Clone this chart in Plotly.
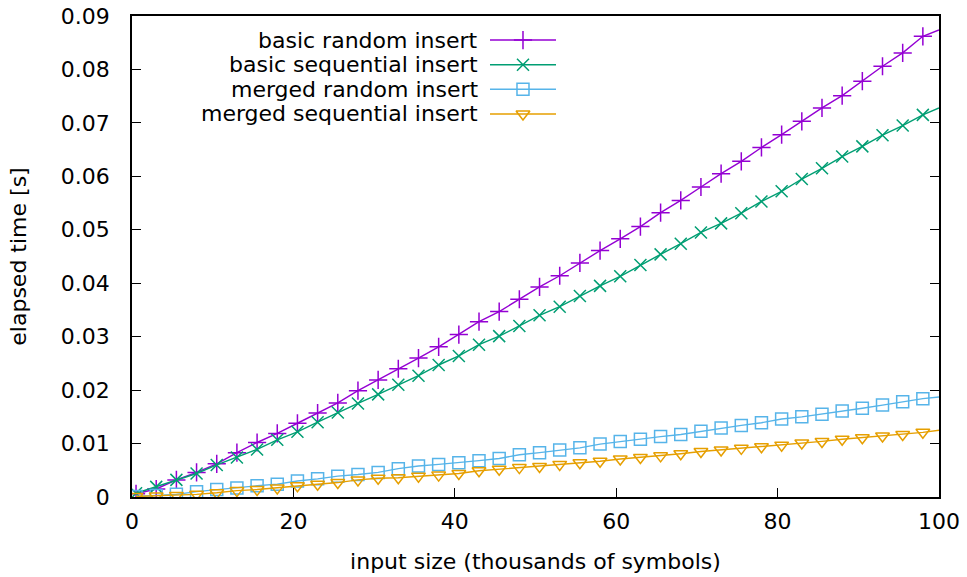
import plotly.graph_objects as go

# x positions of the measured points (thousands of symbols)
x_vals = [0.5 + 2.5 * k for k in range(40)]
x_end = 100

basic_random = [0.0006, 0.0015, 0.0032, 0.0046, 0.0062, 0.0083, 0.0102, 0.0119, 0.0138, 0.0157,
                0.0176, 0.0199, 0.0219, 0.0240, 0.0260, 0.0281, 0.0304, 0.0328, 0.0347, 0.0370,
                0.0393, 0.0414, 0.0438, 0.0461, 0.0483, 0.0506, 0.0532, 0.0555, 0.0580, 0.0605,
                0.0628, 0.0654, 0.0678, 0.0703, 0.0728, 0.0751, 0.0778, 0.0806, 0.0831, 0.0862]
basic_random_end = 0.0874

basic_seq = [0.0007, 0.0019, 0.0032, 0.0044, 0.0060, 0.0074, 0.0089, 0.0107, 0.0122, 0.0140,
             0.0158, 0.0175, 0.0192, 0.0210, 0.0227, 0.0247, 0.0264, 0.0285, 0.0301, 0.0320,
             0.0340, 0.0356, 0.0376, 0.0395, 0.0413, 0.0434, 0.0454, 0.0474, 0.0495, 0.0512,
             0.0531, 0.0553, 0.0572, 0.0595, 0.0615, 0.0637, 0.0656, 0.0677, 0.0695, 0.0715]
basic_seq_end = 0.0728

merged_random = [0.0001, 0.0003, 0.0005, 0.0010, 0.0014, 0.0017, 0.0021, 0.0024, 0.0030, 0.0034,
                 0.0039, 0.0042, 0.0046, 0.0053, 0.0058, 0.0061, 0.0064, 0.0068, 0.0072, 0.0079,
                 0.0083, 0.0088, 0.0092, 0.0099, 0.0104, 0.0108, 0.0113, 0.0117, 0.0123, 0.0129,
                 0.0134, 0.0139, 0.0146, 0.0150, 0.0155, 0.0161, 0.0166, 0.0172, 0.0178, 0.0184]
merged_random_end = 0.0187

merged_seq = [0.0001, 0.0002, 0.0003, 0.0005, 0.0008, 0.0012, 0.0014, 0.0017, 0.0021, 0.0024,
              0.0027, 0.0032, 0.0035, 0.0036, 0.0039, 0.0041, 0.0044, 0.0049, 0.0052, 0.0055,
              0.0057, 0.0061, 0.0064, 0.0067, 0.0071, 0.0074, 0.0077, 0.0081, 0.0085, 0.0088,
              0.0091, 0.0094, 0.0097, 0.0101, 0.0104, 0.0108, 0.0111, 0.0114, 0.0117, 0.0121]
merged_seq_end = 0.0125

series_names = ["basic random insert", "basic sequential insert",
                "merged random insert", "merged sequential insert"]
series_values = [basic_random, basic_seq, merged_random, merged_seq]
series_ends = [basic_random_end, basic_seq_end, merged_random_end, merged_seq_end]
colors = ["#9400d3", "#009e73", "#56b4e9", "#e69f00"]
symbols = ["cross-thin-open", "x-thin-open", "square-open", "triangle-down-open"]
sizes = [13, 12, 12, 12]

x_ticks = [0, 20, 40, 60, 80, 100]
y_ticks = [0, 0.01, 0.02, 0.03, 0.04, 0.05, 0.06, 0.07, 0.08, 0.09]
y_ticktext = ["0", "0.01", "0.02", "0.03", "0.04", "0.05", "0.06", "0.07", "0.08", "0.09"]

FONT = "DejaVu Sans"
FS = 22

fig = go.Figure()
for name, vals, end, c, s, sz in zip(series_names, series_values, series_ends, colors, symbols, sizes):
    fig.add_trace(go.Scatter(x=x_vals + [x_end], y=vals + [end], mode="lines",
                             line=dict(color=c, width=1.4), showlegend=False, name=name))
    fig.add_trace(go.Scatter(x=x_vals, y=vals, mode="markers",
                             marker=dict(symbol=s, size=sz, color=c, line=dict(color=c, width=1.5)),
                             showlegend=False, name=name))

# gnuplot-style key: right-aligned text with sample to the right
key_top = 0.950
key_step = 0.0512
key_text_x = 0.431
key_line = [0.4436, 0.5254]
key_mark = 0.4845
for i, (name, c, s, sz) in enumerate(zip(series_names, colors, symbols, sizes)):
    ky = key_top - i * key_step
    fig.add_trace(go.Scatter(x=key_line, y=[ky, ky], mode="lines", xaxis="x2", yaxis="y2",
                             line=dict(color=c, width=1.4), showlegend=False, hoverinfo="skip"))
    fig.add_trace(go.Scatter(x=[key_mark], y=[ky], mode="markers", xaxis="x2", yaxis="y2",
                             marker=dict(symbol=s, size=sz, color=c, line=dict(color=c, width=1.5)),
                             showlegend=False, hoverinfo="skip"))
    fig.add_annotation(x=key_text_x, y=ky, xref="paper", yref="paper", text=name,
                       showarrow=False, xanchor="right", yanchor="middle",
                       font=dict(family=FONT, size=FS, color="black"))

fig.update_layout(
    width=967, height=577,
    margin=dict(l=132, r=28, t=16, b=80, autoexpand=False),
    plot_bgcolor="white", paper_bgcolor="white",
    font=dict(family=FONT, size=FS, color="black"),
    xaxis=dict(range=[0, 100], tickvals=x_ticks, ticks="inside", ticklen=9, tickwidth=1.3,
               tickcolor="black", showline=True, linecolor="black", linewidth=1.5, mirror=True,
               showgrid=False, zeroline=False, ticklabelstandoff=4, automargin=False,
               title=dict(text="input size (thousands of symbols)", standoff=20,
                          font=dict(family=FONT, size=FS))),
    yaxis=dict(range=[0, 0.09], tickvals=y_ticks, ticktext=y_ticktext, ticks="inside", ticklen=9,
               tickwidth=1.3, tickcolor="black", showline=True, linecolor="black", linewidth=1.5,
               mirror="ticks", showgrid=False, zeroline=False, ticklabelstandoff=16,
               automargin=False,
               title=dict(text="elapsed time [s]", standoff=28, font=dict(family=FONT, size=FS))),
    xaxis2=dict(range=[0, 1], overlaying="x", visible=False, anchor="y2"),
    yaxis2=dict(range=[0, 1], overlaying="y", visible=False, anchor="x2"),
)

fig.write_html("out.html")
